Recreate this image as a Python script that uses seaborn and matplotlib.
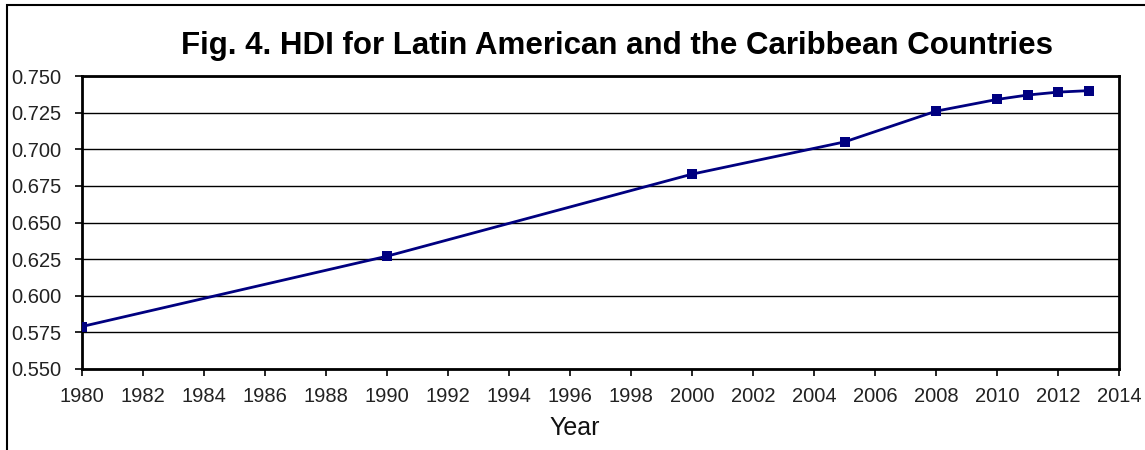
import matplotlib
matplotlib.use("Agg")
import matplotlib.pyplot as plt
import seaborn as sns
import pandas as pd
from matplotlib.patches import Rectangle

years = [1980, 1990, 2000, 2005, 2008, 2010, 2011, 2012, 2013]
hdi = [0.579, 0.627, 0.683, 0.705, 0.726, 0.734, 0.737, 0.739, 0.740]
title = "Fig. 4. HDI for Latin American and the Caribbean Countries"
x_label = "Year"
x_ticks = list(range(1980, 2015, 2))
y_ticks = [0.550, 0.575, 0.600, 0.625, 0.650, 0.675, 0.700, 0.725, 0.750]

sns.set_theme(style="white")
plt.rcParams["font.family"] = ["Liberation Sans", "DejaVu Sans"]

df = pd.DataFrame({"Year": years, "HDI": hdi})

fig = plt.figure(figsize=(11.45, 4.5), dpi=100)
ax = fig.add_axes([82 / 1145, 1 - 369 / 450, (1119 - 82) / 1145, (369 - 76) / 450])

sns.lineplot(data=df, x="Year", y="HDI", ax=ax, color="#000080", linewidth=2,
             marker="s", markersize=6.5, markeredgewidth=0, zorder=3)

ax.set_xlim(1980, 2014)
ax.set_ylim(0.550, 0.750)
ax.set_xticks(x_ticks)
ax.set_xticklabels([str(t) for t in x_ticks])
ax.set_yticks(y_ticks)
ax.set_yticklabels([f"{t:.3f}" for t in y_ticks])
ax.yaxis.grid(True, color="black", linewidth=1)
ax.xaxis.grid(False)
ax.set_xlabel("")
ax.set_ylabel("")
ax.tick_params(axis="both", which="major", direction="out", length=5, width=1.2,
               color="black", labelsize=14.5, labelcolor="#222222", bottom=True, left=True)
ax.tick_params(axis="y", pad=10)
ax.tick_params(axis="x", pad=8)
for s in ax.spines.values():
    s.set_color("black")
    s.set_linewidth(2)

fig.text(575 / 1145, 1 - 428 / 450, x_label, ha="center", va="center", fontsize=18, color="#111111")
fig.text(617 / 1145, 1 - 46 / 450, title, ha="center", va="center", fontsize=22.5,
         fontweight="bold", color="black")

# outer frame of the figure panel
fig.patches.append(Rectangle((7 / 1145, -0.1), 1.2, 1 - 5 / 450 + 0.1, transform=fig.transFigure,
                             fill=False, edgecolor="black", linewidth=1.5))

fig.savefig("out.png", dpi=100)
